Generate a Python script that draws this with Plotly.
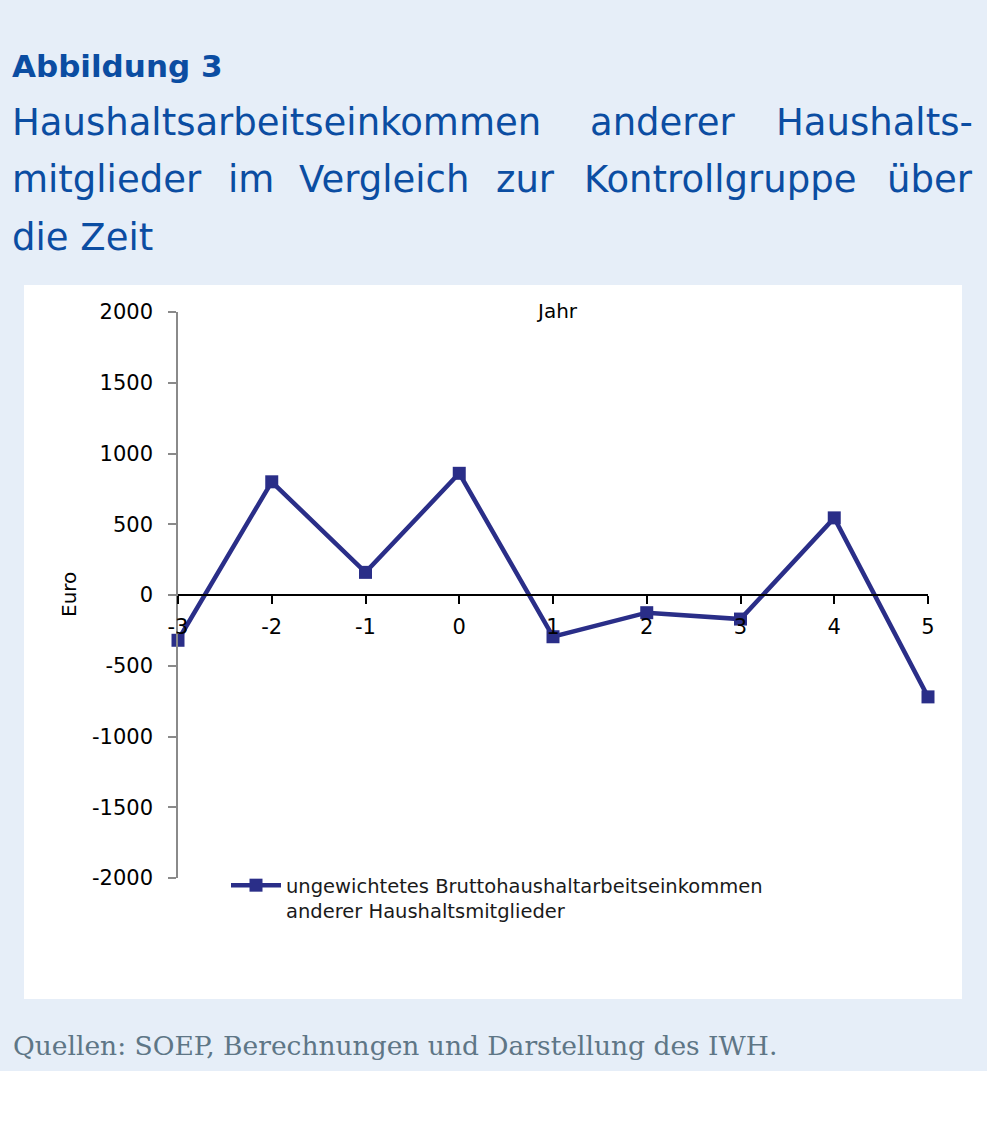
import plotly.graph_objects as go

# ---- data ----
years = [-3, -2, -1, 0, 1, 2, 3, 4, 5]
values = [-320, 800, 160, 860, -295, -125, -170, 545, -720]
y_ticks = [-2000, -1500, -1000, -500, 0, 500, 1000, 1500, 2000]
series_name = "ungewichtetes Bruttohaushaltarbeitseinkommen<br>anderer Haushaltsmitglieder"

W, H = 987, 1137
L, R, T, B = 178, 59, 312, 259
PW, PH = W - L - R, H - T - B


def px(xp):
    return (xp - L) / PW


def py(yp):
    return (H - B - yp) / PH


BLUE_BG = "#E6EEF8"
TITLE_BLUE = "#0B4DA2"
LINE_COL = "#2A2E88"
FONT = "DejaVu Sans"

fig = go.Figure()
fig.add_trace(go.Scatter(
    x=years, y=values, mode="lines+markers", name=series_name,
    line=dict(color=LINE_COL, width=4.5),
    marker=dict(symbol="square", size=13, color=LINE_COL),
    cliponaxis=False,
))

shapes = [
    dict(type="rect", xref="paper", yref="paper", x0=px(0), x1=px(W), y0=py(1071), y1=py(0),
         fillcolor=BLUE_BG, line=dict(width=0), layer="below"),
    dict(type="rect", xref="paper", yref="paper", x0=px(24), x1=px(962), y0=py(999), y1=py(285),
         fillcolor="white", line=dict(width=0), layer="below"),
]

annotations = []


def txt(text, x, y, size, xanchor="left", color=TITLE_BLUE, family=FONT, angle=0, bold=False):
    annotations.append(dict(
        text=f"<b>{text}</b>" if bold else text,
        xref="paper", yref="paper", x=px(x), y=py(y),
        xanchor=xanchor, yanchor="middle", showarrow=False, textangle=angle,
        font=dict(family=family, size=size, color=color),
    ))


TS = 37
txt("Abbildung 3", 10, 66, 31, bold=True)
# justified title line 1
txt("Haushaltsarbeitseinkommen", 10, 122, TS)
txt("anderer", 663, 122, TS, xanchor="center")
txt("Haushalts-", 975, 122, TS, xanchor="right")
# line 2
txt("mitglieder", 10, 180, TS)
txt("im", 251, 180, TS, xanchor="center")
txt("Vergleich", 384, 180, TS, xanchor="center")
txt("zur", 525, 180, TS, xanchor="center")
txt("Kontrollgruppe", 720, 180, TS, xanchor="center")
txt("über", 975, 180, TS, xanchor="right")
# line 3
txt("die Zeit", 10, 238, TS)

txt("Jahr", 557, 311, 20, xanchor="center", color="black")
txt("Euro", 69, 595, 20, xanchor="center", color="black", angle=-90)
txt("Quellen: SOEP, Berechnungen und Darstellung des IWH.", 11, 1045, 26.5,
    color="#5E7686", family="DejaVu Serif")

fig.update_layout(
    width=W, height=H,
    margin=dict(l=L, r=R, t=T, b=B, pad=0),
    paper_bgcolor="white",
    plot_bgcolor="rgba(0,0,0,0)",
    shapes=shapes,
    annotations=annotations,
    showlegend=True,
    legend=dict(
        x=px(226), y=py(866), xanchor="left", yanchor="top",
        bgcolor="rgba(0,0,0,0)", valign="top",
        font=dict(family=FONT, size=19.5, color="#1a1a1a"),
        itemwidth=50,
    ),
    xaxis=dict(
        range=[-3, 5], tickmode="array", tickvals=years,
        ticktext=[str(v) for v in years],
        anchor="free", position=0.5,
        showline=True, linecolor="black", linewidth=1.5,
        ticks="outside", ticklen=8, tickcolor="black", tickwidth=1.5,
        showgrid=False, zeroline=False,
        tickfont=dict(family=FONT, size=21, color="black"),
        ticklabelstandoff=5,
    ),
    yaxis=dict(
        range=[-2000, 2000], tickmode="array", tickvals=y_ticks,
        ticktext=[str(v) for v in y_ticks],
        showline=True, linecolor="#8a8a8a", linewidth=1.5,
        ticks="outside", ticklen=8, tickcolor="#8a8a8a", tickwidth=1.5,
        showgrid=False, zeroline=False,
        tickfont=dict(family=FONT, size=21, color="black"),
        ticklabelstandoff=11,
    ),
)

fig.write_html("out.html", config={"displayModeBar": False},
               post_script="document.body.style.margin='0';")
